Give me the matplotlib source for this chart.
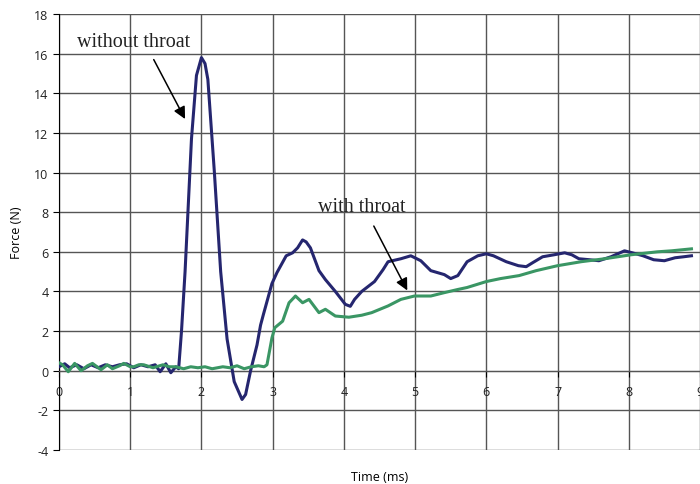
import matplotlib
matplotlib.use("Agg")
import matplotlib.pyplot as plt

# without throat (navy trace)
t_without = [0.0, 0.08, 0.15, 0.25, 0.35, 0.45, 0.55, 0.65, 0.75, 0.85, 0.95,
             1.05, 1.15, 1.25, 1.35, 1.42, 1.5, 1.57, 1.64, 1.68, 1.72, 1.77,
             1.86, 1.93, 2.0, 2.05, 2.09, 2.18, 2.27, 2.36, 2.46, 2.57, 2.62,
             2.69, 2.78, 2.83, 2.87, 2.99, 3.06, 3.19, 3.28, 3.35, 3.42, 3.47,
             3.53, 3.65, 3.74, 3.88, 4.02, 4.09, 4.15, 4.25, 4.43, 4.55, 4.62,
             4.8, 4.94, 5.08, 5.22, 5.41, 5.5, 5.6, 5.73, 5.88, 6.0, 6.1, 6.28,
             6.45, 6.56, 6.65, 6.79, 6.95, 7.1, 7.2, 7.3, 7.45, 7.58, 7.75,
             7.94, 8.05, 8.2, 8.35, 8.5, 8.65, 8.77, 8.88]
f_without = [0.2, 0.35, 0.15, 0.3, 0.1, 0.3, 0.15, 0.3, 0.2, 0.3, 0.35,
             0.15, 0.3, 0.2, 0.3, -0.05, 0.35, -0.1, 0.2, 0.1, 2.0, 5.0,
             11.7, 14.9, 15.8, 15.5, 14.7, 10.1, 5.0, 1.6, -0.55, -1.45, -1.2,
             0.0, 1.3, 2.3, 2.84, 4.4, 4.95, 5.8, 5.95, 6.2, 6.6, 6.5,
             6.2, 5.05, 4.6, 4.0, 3.35, 3.25, 3.6, 4.0, 4.5, 5.1, 5.5,
             5.65, 5.8, 5.55, 5.05, 4.85, 4.65, 4.8, 5.5, 5.8, 5.9, 5.8, 5.5,
             5.3, 5.25, 5.45, 5.75, 5.85, 5.95, 5.85, 5.65, 5.6, 5.55, 5.75,
             6.05, 5.95, 5.8, 5.6, 5.55, 5.7, 5.75, 5.8]

# with throat (green trace)
t_with = [0.0, 0.05, 0.13, 0.22, 0.31, 0.4, 0.47, 0.59, 0.68, 0.75, 0.85,
          0.91, 1.0, 1.05, 1.12, 1.19, 1.32, 1.46, 1.55, 1.64, 1.75, 1.85,
          1.95, 2.05, 2.15, 2.3, 2.4, 2.5, 2.6, 2.7, 2.8, 2.88, 2.92, 2.99,
          3.03, 3.14, 3.23, 3.32, 3.42, 3.51, 3.65, 3.74, 3.88, 4.07, 4.25,
          4.39, 4.62, 4.8, 4.99, 5.22, 5.41, 5.6, 5.73, 6.0, 6.2, 6.46, 6.7,
          7.0, 7.33, 7.66, 8.03, 8.4, 8.6, 8.88]
f_with = [0.4, 0.3, -0.05, 0.37, 0.0, 0.25, 0.37, 0.05, 0.3, 0.1, 0.25,
          0.37, 0.2, 0.2, 0.3, 0.3, 0.15, 0.3, 0.2, 0.2, 0.1, 0.2,
          0.15, 0.2, 0.1, 0.2, 0.15, 0.25, 0.1, 0.2, 0.25, 0.2, 0.3, 1.66,
          2.17, 2.5, 3.43, 3.77, 3.43, 3.6, 2.93, 3.1, 2.76, 2.7, 2.8,
          2.93, 3.27, 3.6, 3.77, 3.77, 3.94, 4.1, 4.2, 4.5, 4.65, 4.8, 5.05,
          5.3, 5.5, 5.65, 5.85, 6.0, 6.05, 6.15]

x_ticks = [0, 1, 2, 3, 4, 5, 6, 7, 8, 9]
y_ticks = list(range(-4, 19, 2))

NAVY = "#25266f"
GREEN = "#3a9664"
GRID = "#555555"

plt.rcParams["font.family"] = ["Open Sans", "DejaVu Sans"]
plt.rcParams["axes.unicode_minus"] = False

fig = plt.figure(figsize=(7.0, 4.85), dpi=100)
ax = fig.add_axes([59 / 700, 34 / 485, 641 / 700, 436 / 485])

ax.plot(t_without, f_without, color=NAVY, lw=2.2, zorder=3)
ax.plot(t_with, f_with, color=GREEN, lw=2.2, zorder=3)

ax.set_xlim(0, 8.88)
ax.set_ylim(-4, 18)
ax.set_xticks(x_ticks)
ax.set_yticks(y_ticks)
ax.grid(True, color=GRID, lw=1.0)
ax.set_axisbelow(True)

ax.spines["bottom"].set_position(("data", 0))
ax.spines["bottom"].set_color(GRID)
ax.spines["top"].set_visible(False)
ax.spines["right"].set_visible(False)
ax.spines["left"].set_color("black")
ax.tick_params(axis="both", labelsize=9, length=4, color="black",
               labelcolor="#222222")
ax.tick_params(axis="x", pad=6)

ax.set_ylabel("Force (N)", fontsize=9, labelpad=8)
fig.text(380 / 700, 1 - 478 / 485, "Time (ms)", fontsize=9,
         ha="center", va="center")

serif = dict(family=["Liberation Serif", "DejaVu Serif"], fontsize=14.5,
             color="#222222")
arrow = dict(arrowstyle="-|>", color="black", lw=1.1,
             mutation_scale=18, shrinkA=0, shrinkB=0)
ax.text(1.05, 16.6, "without throat", ha="center", va="center", **serif)
ax.annotate("", xy=(1.77, 12.7), xytext=(1.33, 15.7), arrowprops=arrow)
ax.text(4.25, 8.3, "with throat", ha="center", va="center", **serif)
ax.annotate("", xy=(4.89, 4.05), xytext=(4.42, 7.3), arrowprops=arrow)

fig.savefig("out.png", dpi=100)
